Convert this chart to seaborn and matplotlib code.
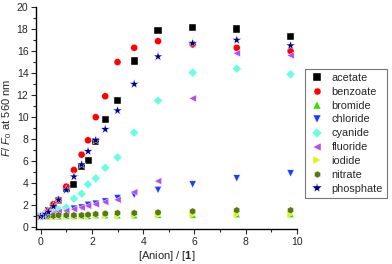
import pandas as pd
import matplotlib
matplotlib.use("Agg")
import matplotlib.pyplot as plt
import seaborn as sns
from matplotlib.ticker import MultipleLocator

# equivalents of anion added
ratio = [0, 0.1, 0.2, 0.3, 0.5, 0.7, 1.0, 1.3, 1.6, 1.85, 2.15, 2.52, 3.0, 3.65, 4.58, 5.93, 7.65, 9.75]

acetate   = [1.0, 1.1, 1.2, 1.5, 1.8, 2.4, 3.5, 3.9, 5.5, 6.1, 7.8, 9.8, 11.5, 15.1, 17.9, 18.1, 18.0, 17.3]
benzoate  = [1.0, 1.1, 1.3, 1.5, 2.1, 2.5, 3.7, 5.2, 6.6, 7.9, 10.0, 11.9, 15.0, 16.3, 16.9, 16.6, 16.3, 16.0]
bromide   = [1.0, 1.0, 1.0, 1.0, 1.0, 1.0, 1.05, 1.05, 1.05, 1.05, 1.1, 1.1, 1.1, 1.1, 1.15, 1.15, 1.2, 1.2]
chloride  = [1.0, 1.05, 1.1, 1.2, 1.3, 1.4, 1.5, 1.7, 1.8, 2.05, 2.15, 2.35, 2.65, 2.95, 3.4, 3.9, 4.45, 4.9]
cyanide   = [1.0, 1.05, 1.1, 1.2, 1.4, 1.6, 1.8, 2.6, 3.05, 3.9, 4.45, 5.4, 6.35, 8.6, 11.5, 14.05, 14.4, 13.9]
fluoride  = [1.0, 1.05, 1.1, 1.2, 1.3, 1.4, 1.5, 1.65, 1.8, 1.95, 2.1, 2.3, 2.5, 3.2, 4.2, 11.7, 15.8, 15.6]
iodide    = [0.95, 0.95, 0.95, 0.95, 0.95, 0.95, 1.0, 1.0, 1.0, 1.0, 1.05, 1.05, 1.05, 1.1, 1.1, 1.15, 1.2, 1.2]
nitrate   = [1.0, 1.0, 1.0, 1.05, 1.05, 1.1, 1.1, 1.1, 1.1, 1.15, 1.2, 1.25, 1.3, 1.3, 1.35, 1.45, 1.55, 1.55]
phosphate = [1.0, 1.0, 1.2, 1.4, 1.9, 2.5, 3.4, 4.6, 5.7, 6.9, 7.9, 8.9, 10.6, 13.0, 15.5, 16.7, 17.0, 16.5]

names = ["acetate", "benzoate", "bromide", "chloride", "cyanide",
         "fluoride", "iodide", "nitrate", "phosphate"]
series = [acetate, benzoate, bromide, chloride, cyanide,
          fluoride, iodide, nitrate, phosphate]

frames = []
for n, s in zip(names, series):
    frames.append(pd.DataFrame({"x": ratio, "y": s, "anion": n}))
df = pd.concat(frames, ignore_index=True)

my_pal = {"acetate": "#000000", "benzoate": "#ff0000", "bromide": "#33dd00",
          "chloride": "#1f3cff", "cyanide": "#66ffe0", "fluoride": "#b44cf0",
          "iodide": "#e6f200", "nitrate": "#557a10", "phosphate": "#000090"}
my_mark = {"acetate": "s", "benzoate": "o", "bromide": "^", "chloride": "v",
           "cyanide": "D", "fluoride": "<", "iodide": ">", "nitrate": "h",
           "phosphate": "*"}
my_size = {n: 26 for n in names}
my_size["phosphate"] = 50
my_size["cyanide"] = 22

sns.set_style("ticks")
plt.rcParams["font.family"] = ["Liberation Sans", "DejaVu Sans"]
plt.rcParams["mathtext.fontset"] = "custom"
plt.rcParams["mathtext.rm"] = "Liberation Sans"
plt.rcParams["mathtext.it"] = "Liberation Sans:italic"
plt.rcParams["mathtext.bf"] = "Liberation Sans:bold"

fig = plt.figure(figsize=(3.92, 2.64), dpi=100)
ax = fig.add_axes([36 / 392, 1 - 229 / 264, 261 / 392, 222 / 264])

sns.scatterplot(data=df, x="x", y="y", hue="anion", style="anion", size="anion",
                palette=my_pal, markers=my_mark, sizes=my_size, linewidth=0.3,
                ax=ax, legend=True)

ax.set_xlim(-0.18, 10)
ax.set_ylim(-0.15, 20)
ax.xaxis.set_major_locator(MultipleLocator(2))
ax.xaxis.set_minor_locator(MultipleLocator(1))
ax.yaxis.set_major_locator(MultipleLocator(2))
ax.yaxis.set_minor_locator(MultipleLocator(1))
ax.tick_params(which="major", length=3.5, width=0.8, labelsize=7.5, pad=2)
ax.tick_params(which="minor", length=2, width=0.8)
for sp in ["left", "bottom"]:
    ax.spines[sp].set_linewidth(1.0)
    ax.spines[sp].set_color("k")
sns.despine(ax=ax)

ax.set_xlabel(r"[Anion] / [$\mathbf{1}$]", fontsize=8, labelpad=2)
ax.set_ylabel(r"$F$/ $F_{\mathit{0}}$ at 560 nm", fontsize=8, labelpad=2)

leg = ax.legend(loc="upper left", bbox_to_anchor=(305 / 392, 1 - 69 / 264),
                bbox_transform=fig.transFigure, fontsize=7.8, frameon=True,
                fancybox=False, edgecolor="#555555", labelspacing=0.36,
                handlelength=1.6, handletextpad=0.5, borderpad=0.35,
                borderaxespad=0, title=None)
leg.get_frame().set_linewidth(0.8)

plt.savefig("out.png", dpi=100)
